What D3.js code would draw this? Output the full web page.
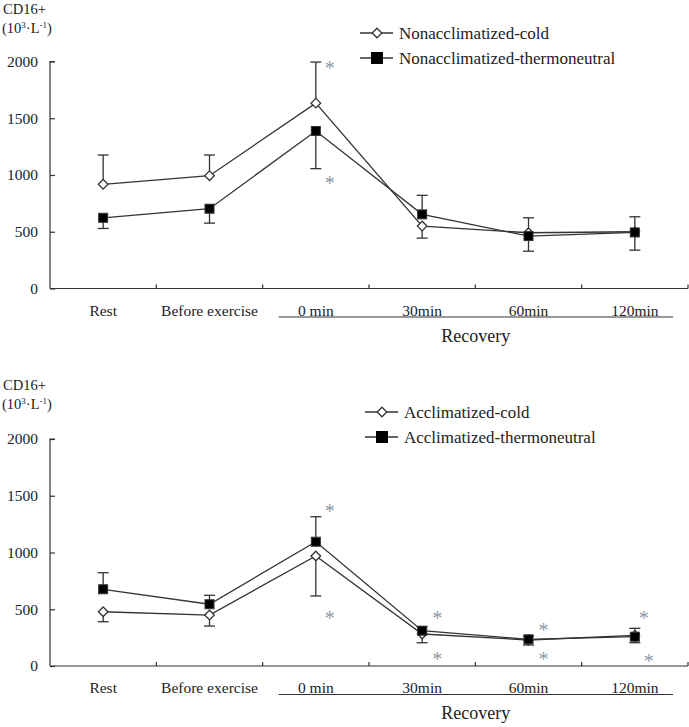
<!DOCTYPE html>
<html><head><meta charset="utf-8">
<script src="https://cdn.jsdelivr.net/npm/d3@7"></script>
<style>
body{margin:0;background:#fff}
svg{display:block}
text{font-family:"Liberation Serif","Times New Roman",serif;fill:#222}
</style></head>
<body><svg id="c" width="689" height="727"></svg>
<script>
const categories = ["Rest","Before exercise","0 min","30min","60min","120min"];
const recoveryLabel = "Recovery";
const yTicks = [0,500,1000,1500,2000];

// Panel A
const aColdName = "Nonacclimatized-cold";
const aThermoName = "Nonacclimatized-thermoneutral";
const aCold   = [918, 994, 1633, 550, 491, 500];
const aThermo = [623, 703, 1388, 653, 462, 494];
const aColdErr   = [1176, 1176, 1995, 444, 623, 632];
const aThermoErr = [529, 576, 1056, 821, 329, 338];
const aStars = [["0 min",2010,14],["0 min",991,14]];

// Panel B
const bColdName = "Acclimatized-cold";
const bThermoName = "Acclimatized-thermoneutral";
const bCold   = [478, 449, 969, 282, 229, 270];
const bThermo = [676, 544, 1095, 311, 235, 258];
const bColdErr   = [390, 352, 617, 205, 185, 205];
const bThermoErr = [822, 623, 1315, 346, 264, 332];
const bStars = [["0 min",1427,14],["0 min",487,14],["30min",487,15],["30min",126,15],
                ["60min",381,15],["60min",126,15],["120min",487,9],["120min",106,14]];

const svg = d3.select("#c");
const ink = "#333";
const starCol = "#8c9aa8";

function diamond(r){return `M0,${-r}L${r},0L0,${r}L${-r},0Z`;}

function panel(cfg){
  const g = svg.append("g");
  const x = d3.scaleBand().domain(categories).range([50,688]).padding(0);
  const cx = c => x(c) + x.bandwidth()/2;
  const y = d3.scaleLinear().domain([0,2000]).range([cfg.y0, cfg.y0 - 227]);

  // y axis
  const ya = g.append("g").attr("transform","translate(50,0)")
    .call(d3.axisRight(y).tickValues(yTicks).tickSize(5).tickFormat(""));
  ya.select(".domain").attr("d",`M5,${y(2000)}H0V${y(0)}`).attr("stroke",ink).attr("stroke-width",1.2);
  ya.selectAll(".tick line").attr("stroke",ink).attr("stroke-width",1.2);
  g.selectAll(".ylab").data(yTicks).join("text")
    .attr("x",38).attr("y",d=>y(d)).attr("dy","0.35em").attr("text-anchor","end")
    .style("font-size","15.5px").text(d=>d);

  // x axis
  g.append("line").attr("x1",50).attr("x2",688).attr("y1",y(0)).attr("y2",y(0))
    .attr("stroke",ink).attr("stroke-width",1.2);
  const bounds = categories.slice(1).map(c=>x(c)).concat([688]);
  g.selectAll(".xt").data(bounds).join("line")
    .attr("x1",d=>d).attr("x2",d=>d).attr("y1",y(0)).attr("y2",y(0)-4)
    .attr("stroke",ink).attr("stroke-width",1.2);
  g.selectAll(".xlab").data(categories).join("text")
    .attr("x",d=>cx(d)).attr("y",y(0)+cfg.labOff).attr("text-anchor","middle")
    .style("font-size","15.5px").text(d=>d);
  // recovery underline
  const ux1 = x("0 min")+16, ux2 = x("120min")+x.bandwidth()-15;
  g.append("line").attr("x1",ux1).attr("x2",ux2)
    .attr("y1",y(0)+cfg.labOff+1.5).attr("y2",y(0)+cfg.labOff+1.5)
    .attr("stroke",ink).attr("stroke-width",1.2);
  g.append("text").attr("x",(ux1+ux2)/2).attr("y",y(0)+cfg.labOff+26)
    .attr("text-anchor","middle").style("font-size","18px").text(recoveryLabel);

  // y title
  g.append("text").attr("x",3).attr("y",cfg.titleY).style("font-size","14.5px").text("CD16+");
  const t2 = g.append("text").attr("x",2).attr("y",cfg.titleY+19).style("font-size","14.5px");
  t2.append("tspan").text("(10");
  t2.append("tspan").attr("dy",-5).style("font-size","9px").text("3");
  t2.append("tspan").attr("dy",5).text("·L");
  t2.append("tspan").attr("dy",-5).style("font-size","9px").text("-1");
  t2.append("tspan").attr("dy",5).text(")");

  const line = d3.line().x((d,i)=>cx(categories[i])).y(d=>y(d));
  const series = [
    {vals:cfg.cold, err:cfg.coldErr, type:"d"},
    {vals:cfg.thermo, err:cfg.thermoErr, type:"s"}
  ];
  series.forEach(s=>{
    g.append("path").datum(s.vals).attr("d",line).attr("fill","none")
      .attr("stroke",ink).attr("stroke-width",1.3);
  });
  series.forEach(s=>{
    s.err.forEach((e,i)=>{
      const px = cx(categories[i]);
      g.append("line").attr("x1",px).attr("x2",px).attr("y1",y(s.vals[i])).attr("y2",y(e))
        .attr("stroke",ink).attr("stroke-width",1.3);
      g.append("line").attr("x1",px-5.5).attr("x2",px+5.5).attr("y1",y(e)).attr("y2",y(e))
        .attr("stroke",ink).attr("stroke-width",1.3);
    });
  });
  series.forEach(s=>{
    s.vals.forEach((v,i)=>{
      const px = cx(categories[i]), py = y(v);
      if(s.type==="d"){
        g.append("path").attr("d",diamond(4.8)).attr("transform",`translate(${px},${py})`)
          .attr("fill","#fff").attr("stroke",ink).attr("stroke-width",1.3);
      } else {
        g.append("rect").attr("x",px-4.5).attr("y",py-4.5).attr("width",9).attr("height",9)
          .attr("fill","#000").attr("stroke",ink).attr("stroke-width",1);
      }
    });
  });

  // stars
  g.selectAll(".star").data(cfg.stars).join("text")
    .attr("x",d=>cx(d[0])+d[2]).attr("y",d=>y(d[1])).attr("dy","0.72em")
    .attr("text-anchor","middle").style("font-size","20px").style("fill",starCol)
    .text("*");

  // legend
  const L = cfg.legend;
  [[cfg.coldName,"d"],[cfg.thermoName,"s"]].forEach((it,k)=>{
    const ly = L.y + k*L.dy;
    g.append("line").attr("x1",L.x).attr("x2",L.x+33).attr("y1",ly).attr("y2",ly)
      .attr("stroke",ink).attr("stroke-width",1.3);
    const mx = L.x+17;
    if(it[1]==="d"){
      g.append("path").attr("d",diamond(4.8)).attr("transform",`translate(${mx},${ly})`)
        .attr("fill","#fff").attr("stroke",ink).attr("stroke-width",1.3);
    } else {
      g.append("rect").attr("x",mx-6).attr("y",ly-6).attr("width",12).attr("height",12).attr("fill","#000");
    }
    g.append("text").attr("x",L.x+39).attr("y",ly).attr("dy","0.33em")
      .style("font-size","17px").text(it[0]);
  });
}

panel({y0:288.5, labOff:27, titleY:14, cold:aCold, thermo:aThermo, coldErr:aColdErr, thermoErr:aThermoErr,
  stars:aStars, coldName:aColdName, thermoName:aThermoName, legend:{x:360,y:33,dy:25}});
panel({y0:666, labOff:27, titleY:390, cold:bCold, thermo:bThermo, coldErr:bColdErr, thermoErr:bThermoErr,
  stars:bStars, coldName:bColdName, thermoName:bThermoName, legend:{x:365,y:412,dy:25}});
</script></body></html>
